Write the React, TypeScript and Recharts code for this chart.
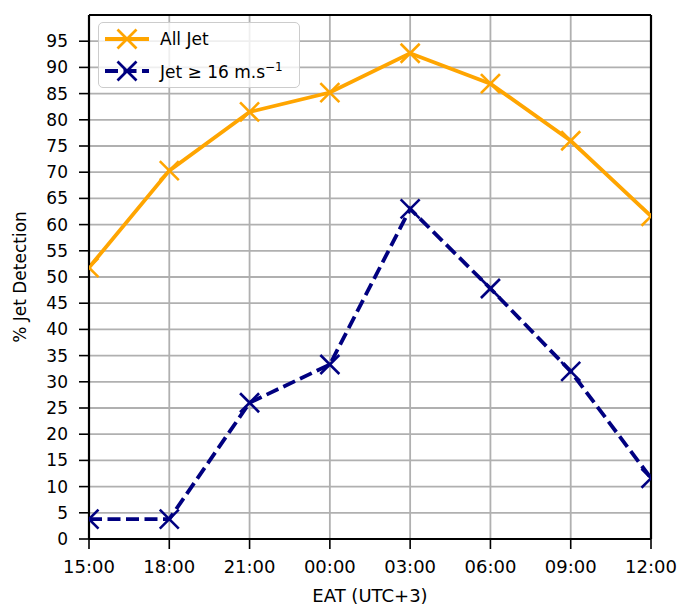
import { LineChart, Line, XAxis, YAxis, CartesianGrid, Legend, ReferenceLine, Label } from 'recharts';

// jet detection per time of day (EAT)
const hours = ['15:00', '18:00', '21:00', '00:00', '03:00', '06:00', '09:00', '12:00'];
const allJet = [51.8, 70.3, 81.5, 85.2, 92.7, 86.9, 76.0, 61.6];
const strongJet = [3.8, 3.8, 26.0, 33.3, 63.0, 47.8, 32.0, 11.6];
const yTicks = [0, 5, 10, 15, 20, 25, 30, 35, 40, 45, 50, 55, 60, 65, 70, 75, 80, 85, 90, 95];

const ORANGE = '#ffa500';
const NAVY = '#000080';
const FONT = '"DejaVu Sans", sans-serif';
const LW = 3.8;
const DASH = '13 5.5';

const data = hours.map((h, i) => ({ hour: h, all: allJet[i], strong: strongJet[i] }));

function Cross({ cx, cy, color }: any) {
  if (cx == null || cy == null) return null;
  const r = 9.5;
  return (
    <g>
      <line x1={cx - r} y1={cy - r} x2={cx + r} y2={cy + r} stroke={color} strokeWidth={2.6} />
      <line x1={cx - r} y1={cy + r} x2={cx + r} y2={cy - r} stroke={color} strokeWidth={2.6} />
    </g>
  );
}

function LegendIcon({ color, dashed }: any) {
  return (
    <svg width={44} height={26} style={{ display: 'block' }}>
      <line x1={0} y1={13} x2={44} y2={13} stroke={color} strokeWidth={LW}
        strokeDasharray={dashed ? DASH : undefined} />
      <Cross cx={22} cy={13} color={color} />
    </svg>
  );
}

function renderLegend() {
  const row = { display: 'flex', alignItems: 'center', height: 32 };
  return (
    <div style={{
      width: 202, boxSizing: 'border-box', border: '1.5px solid #cccccc', borderRadius: 5,
      background: 'rgba(255,255,255,0.8)', padding: '0 0 0 6px', fontFamily: FONT, fontSize: 17, color: '#000',
    }}>
      <div style={row}>
        <LegendIcon color={ORANGE} />
        <span style={{ marginLeft: 11 }}>All Jet</span>
      </div>
      <div style={row}>
        <LegendIcon color={NAVY} dashed />
        <span style={{ marginLeft: 11 }}>
          Jet ≥ 16 m.s<sup style={{ fontSize: 12 }}>−1</sup>
        </span>
      </div>
    </div>
  );
}

export default function App() {
  return (
    <div style={{ position: 'absolute', left: 0, top: 0, background: '#fff' }}>
      <LineChart width={680} height={607} data={data} margin={{ top: 15, right: 29, left: 0, bottom: 0 }}>
        <CartesianGrid stroke="#b0b0b0" strokeWidth={1.8} />
        <XAxis
          dataKey="hour"
          interval={0}
          height={68}
          allowDataOverflow
          tickSize={10}
          tickMargin={11}
          tick={{ fill: '#000', fontSize: 18, fontFamily: FONT }}
          tickLine={{ stroke: '#000', strokeWidth: 1.6 }}
          axisLine={{ stroke: '#000', strokeWidth: 2.2 }}
        >
          <Label value="EAT (UTC+3)" position="insideBottom" offset={5}
            style={{ fill: '#000', fontSize: 18, fontFamily: FONT }} />
        </XAxis>
        <YAxis
          type="number"
          domain={[0, 100]}
          ticks={yTicks}
          interval={0}
          width={89}
          allowDataOverflow
          tickSize={10}
          tickMargin={11}
          tick={{ fill: '#000', fontSize: 17, fontFamily: FONT }}
          tickLine={{ stroke: '#000', strokeWidth: 1.6 }}
          axisLine={{ stroke: '#000', strokeWidth: 2.2 }}
        >
          <Label value="% Jet Detection" angle={-90} position="insideLeft" offset={20}
            style={{ fill: '#000', fontSize: 17, fontFamily: FONT, textAnchor: 'middle' }} />
        </YAxis>
        <ReferenceLine y={100} stroke="#000" strokeWidth={2.2} />
        <ReferenceLine x="12:00" stroke="#000" strokeWidth={2.2} />
        <Line
          dataKey="all"
          name="All Jet"
          stroke={ORANGE}
          strokeWidth={LW}
          isAnimationActive={false}
          dot={<Cross color={ORANGE} r={0} strokeWidth={0} />}
          activeDot={false}
        />
        <Line
          dataKey="strong"
          name="Jet ≥ 16"
          stroke={NAVY}
          strokeWidth={LW}
          strokeDasharray={DASH}
          isAnimationActive={false}
          dot={<Cross color={NAVY} r={0} strokeWidth={0} />}
          activeDot={false}
        />
        <Legend
          layout="vertical"
          align="center"
          verticalAlign="middle"
          content={renderLegend}
          wrapperStyle={{ left: 98, top: 22, width: 'auto' }}
        />
      </LineChart>
    </div>
  );
}
